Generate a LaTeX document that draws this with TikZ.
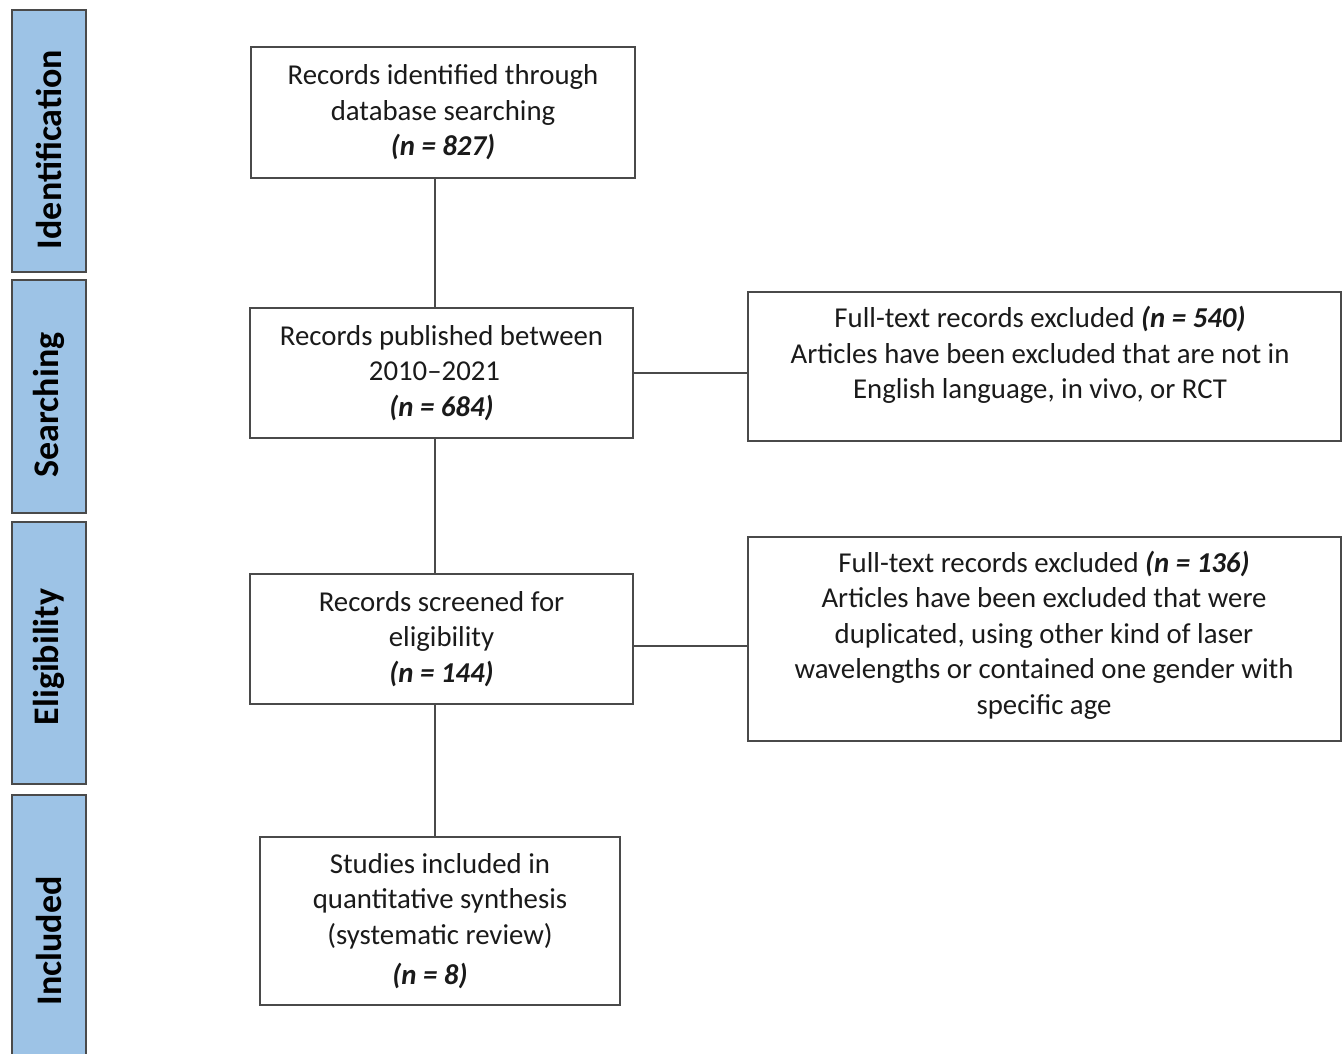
\documentclass[tikz,border=0pt]{standalone}
\usepackage{fontspec}
\setmainfont{Carlito}
\definecolor{barblue}{HTML}{9DC3E6}
\definecolor{edgegray}{HTML}{4A4A4A}
\definecolor{txt}{HTML}{1A1A1A}
\begin{document}
\begin{tikzpicture}[x=1pt,y=-1pt,
  bar/.style={draw=edgegray, line width=2pt, fill=barblue, rotate=90, inner sep=0pt,
    font=\fontsize{36}{40}\selectfont\bfseries, text=black},
  box/.style={draw=edgegray, line width=1.4pt, inner sep=0pt, align=center,
    font=\fontsize{28.8}{35.5}\selectfont, text=txt},
  txtnode/.style={align=center, inner sep=0pt, font=\fontsize{28.8}{35.5}\selectfont, text=txt},
  link/.style={draw=edgegray, line width=1.4pt}]
\useasboundingbox (0,0) rectangle (1343,1054);
% stage bars
\node[bar, minimum width=262pt, minimum height=74pt] (s1) at (49,141) {\hspace*{-17pt}Identification};
\node[bar, minimum width=233pt, minimum height=74pt] (s2) at (49,396.5) {\hspace*{-17pt}Searching};
\node[bar, minimum width=262pt, minimum height=74pt] (s3) at (49,653) {\hspace*{-8pt}Eligibility};
\node[bar, minimum width=292pt, minimum height=74pt] (s4) at (49,941) {Included};
% main boxes
\node[box, minimum width=384pt, minimum height=131pt] (b1) at (443,112.5)
  {Records identified through\\ database searching\\ \textbf{\textit{(n = 827)}}};
\node[box, minimum width=383pt, minimum height=130pt] (b2) at (441.5,373)
  {Records published between\\ \hspace*{-14pt}2010–2021\\ \textbf{\textit{(n = 684)}}};
\node[box, minimum width=383pt, minimum height=130pt] (b3) at (441.5,639)
  {Records screened for\\ eligibility\\ \textbf{\textit{(n = 144)}}};
\node[box, minimum width=360pt, minimum height=168pt] (b4) at (440,921)
  {Studies included in\\ quantitative synthesis\\ (systematic review)\\[5pt] \hspace*{-20pt}\textbf{\textit{(n = 8)}}};
% exclusion boxes
\node[box, minimum width=593pt, minimum height=149pt] (r1) at (1044.5,366.5) {};
\node[txtnode] (t1) at (1040,355)
  {Full-text records excluded \textbf{\textit{(n = 540)}}\\
   Articles have been excluded that are not in\\
   English language, in vivo, or RCT};
\node[box, minimum width=593pt, minimum height=204pt] (r2) at (1044.5,639) {};
\node[txtnode] (t2) at (1044,635)
  {Full-text records excluded \textbf{\textit{(n = 136)}}\\
   Articles have been excluded that were\\
   duplicated, using other kind of laser\\
   wavelengths or contained one gender with\\
   specific age};
% connectors
\draw[link] ([xshift=-8pt]b1.south) -- ([xshift=-6.5pt]b2.north);
\draw[link] ([xshift=-6.5pt]b2.south) -- ([xshift=-6.5pt]b3.north);
\draw[link] ([xshift=-6.5pt]b3.south) -- ([xshift=-5pt]b4.north);
\draw[link] (b2.east) -- (b2.east -| r1.west);
\draw[link] ([yshift=-7pt]b3.east) -- ([yshift=-7pt]b3.east -| r2.west);
\end{tikzpicture}
\end{document}
